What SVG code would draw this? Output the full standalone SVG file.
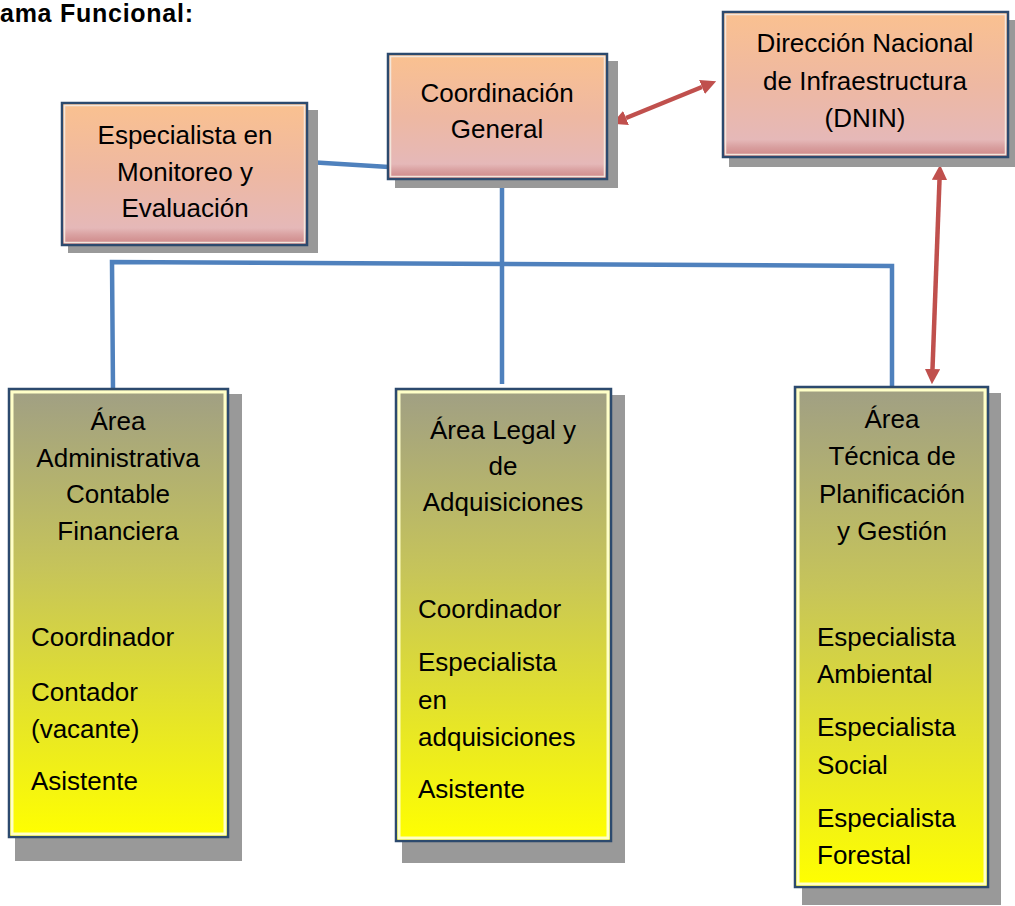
<svg xmlns="http://www.w3.org/2000/svg" width="1015" height="906" viewBox="0 0 1015 906">
<style>
text{font-family:"Liberation Sans",Arial,sans-serif;font-size:26px;fill:#000}
.c{text-anchor:middle}
.title{font-weight:bold;font-size:25px}
.shadow{fill:#999999}
.box{stroke:#2c4a6e;stroke-width:2.5}
.top{fill:url(#gTop)}
.bot{fill:url(#gBot)}
.inTop{fill:none;stroke:#f3e6dc;stroke-width:1.5}
.inBot{fill:none;stroke:#ffffc8;stroke-width:3}
.blue{fill:none;stroke:#4f81bd;stroke-width:4.5}
.red{fill:none;stroke:#c0504d;stroke-width:4.5;marker-start:url(#ah);marker-end:url(#ah)}
</style>
<defs>
<linearGradient id="gTop" x1="0" y1="0" x2="0" y2="1">
<stop offset="0" stop-color="#fac190"/>
<stop offset="0.5" stop-color="#eeb8a2"/>
<stop offset="0.88" stop-color="#e5b8b8"/>
<stop offset="0.93" stop-color="#d9a0a0"/>
<stop offset="1" stop-color="#cd8585"/>
</linearGradient>
<linearGradient id="gBot" x1="0" y1="0" x2="0" y2="1">
<stop offset="0" stop-color="#a09f84"/>
<stop offset="0.4" stop-color="#c6c45a"/>
<stop offset="1" stop-color="#ffff00"/>
</linearGradient>
<marker id="ah" viewBox="0 0 10 10" refX="0" refY="5" markerWidth="3.4" markerHeight="3.4" markerUnits="strokeWidth" orient="auto-start-reverse">
<path d="M0,0 L10,5 L0,10 z" fill="#c0504d"/>
</marker>
</defs>
<text class="title" x="0" y="22" textLength="193">ama Funcional:</text>

<g id="connectors">
<line class="blue" x1="308" y1="162" x2="389" y2="167"/>
<line class="blue" x1="502" y1="180" x2="502" y2="384"/>
<polyline class="blue" points="113,390 112,262 892,266 892,388"/>
<line class="red" x1="626" y1="118" x2="702" y2="87"/>
<line class="red" x1="939.5" y1="180" x2="932.5" y2="369"/>
</g>

<g id="n-monitoreo">
<rect class="shadow" x="68" y="110" width="250" height="143"/>
<rect class="box top" x="62" y="103" width="245" height="142"/>
<rect class="inTop" x="64.5" y="105.5" width="240" height="137"/>
<text class="c" x="185" y="144">Especialista en</text>
<text class="c" x="185" y="181">Monitoreo y</text>
<text class="c" x="185" y="217">Evaluación</text>
</g>

<g id="n-coordinacion">
<rect class="shadow" x="395" y="61" width="223" height="127"/>
<rect class="box top" x="388" y="54" width="219" height="125"/>
<rect class="inTop" x="390.5" y="56.5" width="214" height="120"/>
<text class="c" x="497" y="102">Coordinación</text>
<text class="c" x="497" y="138">General</text>
</g>

<g id="n-dnin">
<rect class="shadow" x="729" y="20" width="290" height="147"/>
<rect class="box top" x="723" y="12" width="285" height="145"/>
<rect class="inTop" x="725.5" y="14.5" width="280" height="140"/>
<text class="c" x="865" y="52">Dirección Nacional</text>
<text class="c" x="865" y="90">de Infraestructura</text>
<text class="c" x="865" y="127">(DNIN)</text>
</g>

<g id="n-administrativa">
<rect class="shadow" x="15" y="394" width="227" height="467"/>
<rect class="box bot" x="9" y="389" width="219" height="448"/>
<rect class="inBot" x="12" y="392" width="213" height="442"/>
<text class="c" x="118" y="430">Área</text>
<text class="c" x="118" y="467">Administrativa</text>
<text class="c" x="118" y="503">Contable</text>
<text class="c" x="118" y="540">Financiera</text>
<text x="31" y="646">Coordinador</text>
<text x="31" y="701">Contador</text>
<text x="31" y="738">(vacante)</text>
<text x="31" y="790">Asistente</text>
</g>

<g id="n-legal">
<rect class="shadow" x="402" y="395" width="223" height="468"/>
<rect class="box bot" x="396" y="389" width="215" height="452"/>
<rect class="inBot" x="399" y="392" width="209" height="446"/>
<text class="c" x="503" y="439">Área Legal y</text>
<text class="c" x="503" y="475">de</text>
<text class="c" x="503" y="511">Adquisiciones</text>
<text x="418" y="618">Coordinador</text>
<text x="418" y="671">Especialista</text>
<text x="418" y="709">en</text>
<text x="418" y="746">adquisiciones</text>
<text x="418" y="798">Asistente</text>
</g>

<g id="n-tecnica">
<rect class="shadow" x="802" y="393" width="199" height="512"/>
<rect class="box bot" x="795" y="387" width="193" height="500"/>
<rect class="inBot" x="798" y="390" width="187" height="494"/>
<text class="c" x="892" y="428">Área</text>
<text class="c" x="892" y="465">Técnica de</text>
<text class="c" x="892" y="503">Planificación</text>
<text class="c" x="892" y="540">y Gestión</text>
<text x="817" y="646">Especialista</text>
<text x="817" y="683">Ambiental</text>
<text x="817" y="736">Especialista</text>
<text x="817" y="774">Social</text>
<text x="817" y="827">Especialista</text>
<text x="817" y="864">Forestal</text>
</g>
</svg>
